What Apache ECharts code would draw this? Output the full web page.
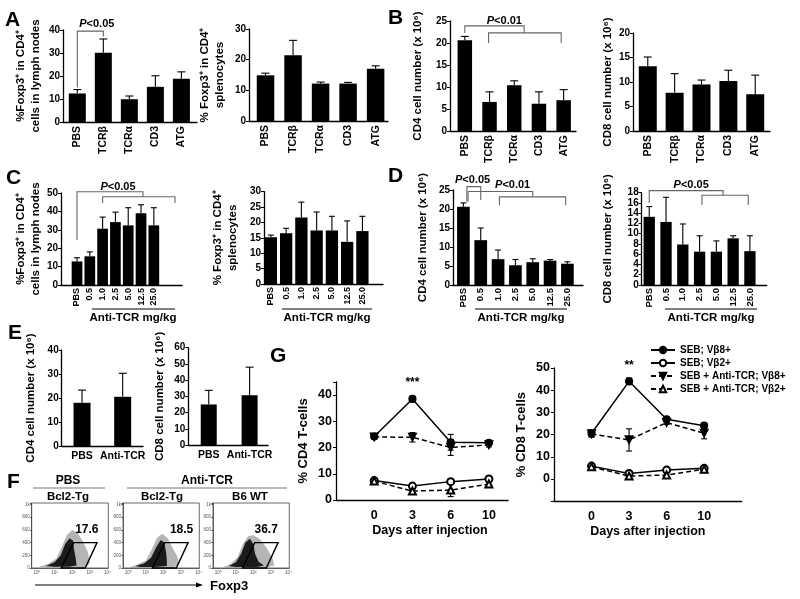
<!DOCTYPE html>
<html><head><meta charset="utf-8">
<script src="https://cdn.jsdelivr.net/npm/echarts@6/dist/echarts.min.js"></script>
<style>html,body{margin:0;padding:0;background:#fff}#c{width:800px;height:599px}</style>
</head><body><div id="c"></div>
<script>
const FONT = '"Liberation Sans", Arial, Helvetica, sans-serif';

// ---------------- DATA ----------------
// Panel A
const catsA = ['PBS', 'TCRβ', 'TCRα', 'CD3', 'ATG'];
const a1Mean = [12.4, 30.1, 9.9, 15.3, 18.8];
const a1Err  = [1.7, 6.0, 1.4, 4.8, 3.0];
const a2Mean = [14.9, 21.4, 12.2, 12.2, 17.0];
const a2Err  = [0.7, 4.9, 0.5, 0.4, 1.0];
// Panel B
const b1Mean = [20.6, 6.6, 10.4, 6.2, 7.0];
const b1Err  = [0.9, 2.3, 1.0, 2.7, 2.4];
const b2Mean = [13.2, 7.8, 9.5, 10.2, 7.5];
const b2Err  = [1.9, 3.9, 0.9, 2.2, 3.9];
// Panel C / D (anti-TCR doses, mg/kg)
const catsC = ['PBS', '0.5', '1.0', '2.5', '5.0', '12.5', '25.0'];
const c1Mean = [12.8, 15.6, 30.6, 34.2, 32.4, 39.0, 32.4];
const c1Err  = [2.0, 2.4, 6.3, 5.4, 9.6, 4.6, 9.6];
const c2Mean = [15.2, 16.5, 21.6, 17.4, 17.4, 13.7, 17.2];
const c2Err  = [0.7, 1.6, 5.0, 6.0, 4.6, 6.8, 4.8];
const d1Mean = [20.6, 11.8, 6.8, 5.2, 6.0, 6.4, 5.6];
const d1Err  = [1.0, 3.2, 2.4, 1.5, 0.9, 0.3, 0.5];
const d2Mean = [13.3, 12.3, 7.9, 6.5, 6.5, 9.1, 6.6];
const d2Err  = [2.0, 4.8, 4.0, 3.1, 2.1, 0.5, 3.0];
// Panel E
const catsE = ['PBS', 'Anti-TCR'];
const e1Mean = [18.0, 20.5];
const e1Err  = [5.3, 9.8];
const e2Mean = [25.0, 30.7];
const e2Err  = [8.7, 17.3];
// Significance brackets: [fromX, toX, lineY, leftEndY, rightEndY] ; labels: [x, y]
const a1Br = [[0, 1, 39.5, 15.0, 37.2]];
const a1BrLab = [[0.75, 42.8]];
const b1Br = [[0, 2.4, 23.9, 22.3, 22.3], [0.96, 3.9, 22.3, 20.0, 20.0]];
const b1BrLab = [[1.6, 25.0]];
const c1Br = [[0, 5.15, 50.7, 24.5, 48.0], [2, 7.65, 48.0, 44.6, 44.6]];
const c1BrLab = [[3.2, 53.5]];
const d1Br = [[0.2, 1, 25.9, 21.9, 22.4], [0.27, 4.0, 24.6, 21.9, 23.2], [2.08, 5.9, 23.2, 21.0, 21.0]];
const d1BrLab = [[0.53, 27.6], [2.84, 26.3]];
const d1BrTxt = ['0.05', '0.01'];
const d2Br = [[0, 4.4, 18.4, 16.0, 17.5], [3.14, 5.9, 17.5, 15.6, 15.6]];
const d2BrLab = [[2.5, 19.5]];
// Panel F (flow cytometry): x = log10 Foxp3, y = SSC
const fTitles = ['17.6', '18.5', '36.7'];
const fGate = [[1.38, 0], [2.08, 400], [3.41, 400], [2.74, 0]];
const fCloudOuter = [
  [[0.1,20],[0.6,60],[1.1,150],[1.4,330],[1.7,520],[2.0,600],[2.3,560],[2.6,420],[2.9,250],[3.0,80],[2.8,15],[1.5,10],[0.5,10]],
  [[0.1,15],[0.5,50],[1.0,120],[1.35,300],[1.65,480],[1.95,540],[2.25,470],[2.5,330],[2.8,180],[2.9,60],[2.6,10],[1.2,8],[0.3,8]],
  [[0.3,15],[0.7,60],[1.1,170],[1.4,380],[1.7,500],[2.0,520],[2.4,450],[2.8,300],[3.1,150],[3.2,40],[2.8,10],[1.4,8],[0.5,8]]
];
const fCloudInner = [
  [[0.5,30],[1.0,90],[1.35,200],[1.6,380],[1.85,470],[2.05,430],[2.1,300],[2.2,150],[2.25,40],[1.8,20],[1.0,20]],
  [[0.4,30],[0.9,70],[1.3,160],[1.6,330],[1.85,440],[2.05,400],[2.15,260],[2.2,120],[2.2,30],[1.5,15],[0.7,15]],
  [[0.6,30],[1.0,90],[1.3,220],[1.55,400],[1.8,460],[2.0,380],[2.1,220],[2.3,100],[2.6,40],[2.2,15],[1.0,15]]
];
const fPctPos = [[2.83, 598], [3.04, 598], [2.73, 598]];
// Panel G
const gDays = ['0', '3', '6', '10'];
const gNames = ['SEB; Vβ8+', 'SEB; Vβ2+', 'SEB + Anti-TCR; Vβ8+', 'SEB + Anti-TCR; Vβ2+'];
const g1Vals = [[24.2, 38.5, 22.0, 21.8], [7.4, 5.3, 7.0, 8.0], [24.0, 23.9, 20.0, 21.0], [7.2, 3.4, 3.8, 6.1]];
const g1Errs = [[0.8, 1.0, 3.0, 0.8], [0.5, 0.8, 0.5, 0.5], [0.8, 1.8, 3.0, 0.8], [0.5, 0.8, 2.5, 0.8]];
const g2Vals = [[20.6, 44.0, 26.9, 24.0], [5.8, 2.5, 4.0, 4.8], [20.3, 17.6, 25.4, 20.6], [5.5, 1.3, 1.8, 4.4]];
const g2Errs = [[1.5, 1.5, 0.8, 0.8], [0.5, 0.5, 0.5, 0.5], [1.5, 5.0, 0.8, 2.5], [0.5, 0.5, 1.5, 0.5]];
const g1Star = '***', g2Star = '**';

// ---------------- BUILD ----------------
const grids = [], xAxes = [], yAxes = [], series = [];
const B = {color: '#000', fontFamily: FONT, fontWeight: 'bold'};
const r05 = v => Math.round(v * 20) / 20;
function addGrid(g) { grids.push(g); return grids.length - 1; }

function errUp(cap) {
  return function (params, api) {
    const x = api.value(0), lo = api.value(1), hi = api.value(2);
    const a = api.coord([x, lo]), b = api.coord([x, hi]);
    return {type: 'group', children: [
      {type: 'line', shape: {x1: a[0], y1: a[1], x2: b[0], y2: b[1]}, style: {stroke: '#000', lineWidth: 1.1}},
      {type: 'line', shape: {x1: b[0] - cap, y1: b[1], x2: b[0] + cap, y2: b[1]}, style: {stroke: '#000', lineWidth: 1.1}}
    ]};
  };
}
function errBoth(cap) {
  return function (params, api) {
    const x = api.value(0), lo = api.value(1), hi = api.value(2);
    const a = api.coord([x, lo]), b = api.coord([x, hi]);
    return {type: 'group', children: [
      {type: 'line', shape: {x1: a[0], y1: a[1], x2: b[0], y2: b[1]}, style: {stroke: '#000', lineWidth: 1.1}},
      {type: 'line', shape: {x1: b[0] - cap, y1: b[1], x2: b[0] + cap, y2: b[1]}, style: {stroke: '#000', lineWidth: 1.1}},
      {type: 'line', shape: {x1: a[0] - cap, y1: a[1], x2: a[0] + cap, y2: a[1]}, style: {stroke: '#000', lineWidth: 1.1}}
    ]};
  };
}
function addBrackets(gi, brs, labs, txts) {
  series.push({type: 'custom', xAxisIndex: gi, yAxisIndex: gi, clip: false, z: 4, silent: true, data: brs,
    renderItem: (params, api) => {
      const x1 = api.value(0), x2 = api.value(1), y = api.value(2), yl = api.value(3), yr = api.value(4);
      return {type: 'polyline', shape: {points: [api.coord([x1, yl]), api.coord([x1, y]), api.coord([x2, y]), api.coord([x2, yr])]},
        style: {stroke: '#666', lineWidth: 1.1, fill: null}};
    }});
  series.push({type: 'custom', xAxisIndex: gi, yAxisIndex: gi, clip: false, z: 4, silent: true, data: labs,
    renderItem: (params, api) => {
      const c = api.coord([api.value(0), api.value(1)]);
      const t = txts[params.dataIndex];
      return {type: 'text', x: c[0], y: c[1], style: {text: '{i|P}{n|<' + t + '}', align: 'center', verticalAlign: 'middle',
        rich: {i: {fontStyle: 'italic', fontWeight: 'bold', fontSize: 11, fontFamily: FONT, fill: '#000'},
               n: {fontWeight: 'bold', fontSize: 11, fontFamily: FONT, fill: '#000'}}}};
    }});
}

function barPanel(p) {
  const gi = addGrid({left: p.left, top: p.top, width: p.right - p.left, height: p.bottom - p.top});
  const xmin = r05(-(p.first - p.left) / p.sp), xmax = r05((p.right - p.first) / p.sp);
  xAxes.push({gridIndex: gi, type: 'value', min: xmin, max: xmax, interval: 0.05,
    splitLine: {show: false}, axisTick: {show: false},
    axisLine: {onZero: false, lineStyle: {color: '#000', width: 1.3}},
    axisLabel: Object.assign({}, B, {fontSize: p.catFont, rotate: p.rot, margin: p.catMargin,
      formatter: v => { const r = Math.round(v); return (Math.abs(v - r) < 1e-6 && r >= 0 && r < p.cats.length) ? p.cats[r] : ''; }})});
  yAxes.push({gridIndex: gi, type: 'value', min: 0, max: p.ymax, interval: p.ystep,
    splitLine: {show: false}, axisLine: {show: true, onZero: false, lineStyle: {color: '#000', width: 1.3}},
    axisTick: {show: true, length: 3, lineStyle: {color: '#000'}},
    axisLabel: Object.assign({}, B, {fontSize: p.tickFont, margin: 3}),
    name: p.name, nameLocation: 'middle', nameGap: p.nameGap, nameRotate: 90,
    nameTextStyle: Object.assign({}, B, {fontSize: p.nameFont, lineHeight: p.nameFont + 3})});
  series.push({type: 'bar', xAxisIndex: gi, yAxisIndex: gi, data: p.vals.map((v, i) => [i, v]),
    barWidth: p.barW, itemStyle: {color: '#000'}, silent: true});
  series.push({type: 'custom', xAxisIndex: gi, yAxisIndex: gi, clip: false, z: 3, silent: true,
    data: p.vals.map((v, i) => [i, v, v + p.errs[i]]), renderItem: errUp(p.cap)});
  return gi;
}

const nmFox = '%Foxp3⁺ in CD4⁺\ncells in lymph nodes';
const nmSpl = '% Foxp3⁺ in CD4⁺\nsplenocytes';
const nmCD4 = 'CD4 cell number (x 10⁶)';
const nmCD8 = 'CD8 cell number (x 10⁶)';

let gi;
gi = barPanel({left: 63, right: 197, top: 30, bottom: 122, first: 77.7, sp: 26, barW: 17, ymax: 40, ystep: 10,
  cats: catsA, vals: a1Mean, errs: a1Err, name: nmFox, nameGap: 20, catFont: 10.5, rot: 90, catMargin: 4, tickFont: 10, nameFont: 11.5, cap: 4});
addBrackets(gi, a1Br, a1BrLab, ['0.05']);
barPanel({left: 249, right: 388, top: 29, bottom: 121, first: 265.7, sp: 27.5, barW: 17.5, ymax: 30, ystep: 10,
  cats: catsA, vals: a2Mean, errs: a2Err, name: nmSpl, nameGap: 22, catFont: 10.5, rot: 90, catMargin: 4, tickFont: 10, nameFont: 11.5, cap: 4});
gi = barPanel({left: 450, right: 576, top: 21, bottom: 131, first: 464.3, sp: 24.75, barW: 14.5, ymax: 25, ystep: 5,
  cats: catsA, vals: b1Mean, errs: b1Err, name: nmCD4, nameGap: 25, catFont: 10.5, rot: 90, catMargin: 4, tickFont: 10, nameFont: 11.5, cap: 4});
addBrackets(gi, b1Br, b1BrLab, ['0.01']);
barPanel({left: 633, right: 770, top: 33, bottom: 131, first: 648.3, sp: 26.85, barW: 18, ymax: 20, ystep: 5,
  cats: catsA, vals: b2Mean, errs: b2Err, name: nmCD8, nameGap: 18, catFont: 10.5, rot: 90, catMargin: 4, tickFont: 10, nameFont: 11.5, cap: 4});
gi = barPanel({left: 61, right: 182, top: 193, bottom: 285, first: 77, sp: 12.8, barW: 10.7, ymax: 50, ystep: 10,
  cats: catsC, vals: c1Mean, errs: c1Err, name: nmFox, nameGap: 16, catFont: 9, rot: 90, catMargin: 3, tickFont: 10, nameFont: 11.5, cap: 3});
addBrackets(gi, c1Br, c1BrLab, ['0.05']);
barPanel({left: 264, right: 383, top: 191.7, bottom: 284, first: 271, sp: 15.2, barW: 12.3, ymax: 30, ystep: 5,
  cats: catsC, vals: c2Mean, errs: c2Err, name: nmSpl, nameGap: 24, catFont: 9, rot: 90, catMargin: 3, tickFont: 10, nameFont: 11.5, cap: 3});
gi = barPanel({left: 453, right: 583, top: 190, bottom: 285, first: 463.3, sp: 17.3, barW: 12.7, ymax: 25, ystep: 5,
  cats: catsC, vals: d1Mean, errs: d1Err, name: nmCD4, nameGap: 23, catFont: 9.5, rot: 90, catMargin: 3, tickFont: 10, nameFont: 11.5, cap: 3});
addBrackets(gi, d1Br, d1BrLab, d1BrTxt);
gi = barPanel({left: 641.7, right: 766.7, top: 192.7, bottom: 285, first: 649, sp: 16.8, barW: 11.3, ymax: 18, ystep: 2,
  cats: catsC, vals: d2Mean, errs: d2Err, name: nmCD8, nameGap: 27, catFont: 9.5, rot: 90, catMargin: 3, tickFont: 10, nameFont: 11.5, cap: 3});
addBrackets(gi, d2Br, d2BrLab, ['0.05']);
barPanel({left: 61.7, right: 143, top: 350, bottom: 446, first: 81.7, sp: 40.3, barW: 17, ymax: 40, ystep: 10,
  cats: catsE, vals: e1Mean, errs: e1Err, name: nmCD4, nameGap: 24, catFont: 10.5, rot: 0, catMargin: 5, tickFont: 10, nameFont: 11.5, cap: 4});
barPanel({left: 188.3, right: 268, top: 347.7, bottom: 445, first: 209, sp: 40.7, barW: 16, ymax: 60, ystep: 10,
  cats: catsE, vals: e2Mean, errs: e2Err, name: nmCD8, nameGap: 21, catFont: 10.5, rot: 0, catMargin: 5, tickFont: 10, nameFont: 11.5, cap: 4});

// ---- Panel F ----
const supDigits = ['⁰', '¹', '²', '³', '⁴', '⁵'];
const fBoxes = [[31.7, 108.3], [123, 199.3], [213, 289.3]];
fBoxes.forEach((bx, k) => {
  const g = addGrid({left: bx[0], top: 503, width: bx[1] - bx[0], height: 65, show: true, borderColor: '#444', borderWidth: 0.8});
  xAxes.push({gridIndex: g, type: 'value', min: -0.3, max: 4.05, interval: 0.05, splitLine: {show: false},
    axisLine: {onZero: false, lineStyle: {color: '#444', width: 0.8}}, axisTick: {show: false},
    axisLabel: {fontSize: 4.5, color: '#555', margin: 2, fontFamily: FONT,
      formatter: v => { const r = Math.round(v); return (Math.abs(v - r) < 1e-6 && r >= 0 && r <= 4) ? '10' + supDigits[r] : ''; }}});
  yAxes.push({gridIndex: g, type: 'value', min: 0, max: 1024, interval: 200, splitLine: {show: false},
    axisLine: {show: true, onZero: false, lineStyle: {color: '#444', width: 0.8}}, axisTick: {show: true, length: 1.5},
    axisLabel: {fontSize: 4.5, color: '#555', margin: 2, fontFamily: FONT, formatter: v => (v <= 1000 ? (v === 1000 ? '1k' : String(v)) : '')}});
  const polyRender = polys => (params, api) => ({type: 'polygon',
    shape: {points: polys[params.dataIndex].map(pt => api.coord(pt))}, style: api.style()});
  series.push({type: 'custom', xAxisIndex: g, yAxisIndex: g, silent: true, z: 2, data: [[0, 0]],
    itemStyle: {color: 'rgba(90,90,90,0.45)'}, renderItem: polyRender([fCloudOuter[k]])});
  series.push({type: 'custom', xAxisIndex: g, yAxisIndex: g, silent: true, z: 3, data: [[0, 0]],
    itemStyle: {color: 'rgba(10,10,10,0.9)'}, renderItem: polyRender([fCloudInner[k]])});
  series.push({type: 'custom', xAxisIndex: g, yAxisIndex: g, silent: true, z: 4, data: [[0, 0]],
    renderItem: (params, api) => ({type: 'polygon', shape: {points: fGate.map(pt => api.coord(pt))},
      style: {fill: null, stroke: '#000', lineWidth: 1.4}})});
  series.push({type: 'custom', xAxisIndex: g, yAxisIndex: g, silent: true, z: 5, data: [fPctPos[k]],
    renderItem: (params, api) => { const c = api.coord([api.value(0), api.value(1)]);
      return {type: 'text', x: c[0], y: c[1], style: {text: fTitles[k], align: 'center', verticalAlign: 'middle',
        font: 'bold 12px ' + FONT, fill: '#000'}}; }});
});

// ---- Panel G ----
const gStyles = [
  {symbol: 'circle', dash: 'solid', size: 7},
  {symbol: 'emptyCircle', dash: 'solid', size: 7},
  {symbol: 'path://M0,0L10,0L5,9Z', dash: [5, 3], size: 8},
  {symbol: 'emptyTriangle', dash: [5, 3], size: 7}
];
function linePanel(p) {
  const g = addGrid({left: p.left, top: p.top, width: p.right - p.left, height: p.bottom - p.top});
  xAxes.push({gridIndex: g, type: 'value', min: -1, max: p.xmax, interval: 0.5, splitLine: {show: false},
    axisTick: {show: false}, axisLine: {onZero: false, lineStyle: {color: '#000', width: 1.3}},
    axisLabel: Object.assign({}, B, {fontSize: 12.5, margin: 9,
      formatter: v => (Number.isInteger(v) && v >= 0 && v < gDays.length ? gDays[v] : '')}),
    name: 'Days after injection', nameLocation: 'middle', nameGap: 24,
    nameTextStyle: Object.assign({}, B, {fontSize: 12.5, padding: p.namePad})});
  yAxes.push({gridIndex: g, type: 'value', min: p.ymin, max: p.ymax, interval: 10, splitLine: {show: false},
    axisLine: {show: true, onZero: false, lineStyle: {color: '#000', width: 1.3}},
    axisTick: {show: true, length: 3, lineStyle: {color: '#000'}},
    axisLabel: Object.assign({}, B, {fontSize: 12.5, margin: 4,
      formatter: v => (v >= 0 && v <= p.labMax && v % 10 === 0 ? String(v) : '')}),
    name: p.name, nameLocation: 'middle', nameGap: 26, nameRotate: 90,
    nameTextStyle: Object.assign({}, B, {fontSize: 13})});
  p.vals.forEach((vals, k) => {
    const st = gStyles[k];
    series.push({type: 'line', name: gNames[k], xAxisIndex: g, yAxisIndex: g, z: 5,
      data: vals.map((v, i) => (k === 0 && i === 1) ?
        {value: [i, v], label: {show: true, formatter: p.star, position: 'top', distance: 6, fontFamily: FONT, fontWeight: 'bold', fontSize: 12, color: '#000'}} : [i, v]),
      symbol: st.symbol, symbolSize: st.size,
      lineStyle: {color: '#000', width: 1.5, type: st.dash},
      itemStyle: {color: '#000', borderColor: '#000', borderWidth: 1.2}});
    series.push({type: 'custom', xAxisIndex: g, yAxisIndex: g, z: 4, silent: true,
      data: vals.map((v, i) => [i, v - p.errs[k][i], v + p.errs[k][i]]), renderItem: errBoth(3)});
  });
}
linePanel({left: 336, right: 508, top: 381.9, bottom: 500, xmax: 3.5, ymin: 0, ymax: 45, labMax: 40,
  vals: g1Vals, errs: g1Errs, name: '% CD4 T-cells', star: g1Star, namePad: [0, 0, 0, 16]});
linePanel({left: 554, right: 741.7, top: 368, bottom: 501.2, xmax: 4, ymin: -10, ymax: 50, labMax: 50,
  vals: g2Vals, errs: g2Errs, name: '% CD8 T-cells', star: g2Star, namePad: [0, 0, 0, 0]});

// ---- static annotations ----
const T = (x, y, text, size, align, extra) => Object.assign({type: 'text', x: x, y: y, silent: true,
  style: {text: text, font: 'bold ' + size + 'px ' + FONT, fill: '#000', align: align || 'left', verticalAlign: 'middle'}}, extra || {});
const L = (x1, y1, x2, y2, c, w) => ({type: 'line', silent: true, shape: {x1, y1, x2, y2}, style: {stroke: c || '#000', lineWidth: w || 1}});
const graphic = [
  T(5, 20, 'A', 21), T(388, 18, 'B', 21), T(6, 178, 'C', 21), T(388, 176, 'D', 21),
  T(8, 333, 'E', 21), T(7, 482, 'F', 21), T(270, 356, 'G', 21),
  L(92, 309, 175, 309, '#555', 1.3), T(133, 318, 'Anti-TCR mg/kg', 11.5, 'center'),
  L(282, 309, 372, 309, '#555', 1.3), T(327, 318, 'Anti-TCR mg/kg', 11.5, 'center'),
  L(475, 309, 567, 309, '#555', 1.3), T(521, 318, 'Anti-TCR mg/kg', 11.5, 'center'),
  L(665, 309, 757, 309, '#555', 1.3), T(711, 318, 'Anti-TCR mg/kg', 11.5, 'center'),
  T(68, 481, 'PBS', 12, 'center'), L(33, 488, 105, 488, '#777', 1),
  T(207, 481, 'Anti-TCR', 12, 'center'), L(127, 488, 287, 488, '#777', 1),
  T(68, 497, 'Bcl2-Tg', 11.5, 'center'), T(162, 497, 'Bcl2-Tg', 11.5, 'center'), T(250, 497, 'B6 WT', 11.5, 'center'),
  L(35, 585, 199, 585, '#000', 1),
  {type: 'polygon', silent: true, shape: {points: [[203, 585], [196, 582.5], [196, 587.5]]}, style: {fill: '#000'}},
  T(210, 586, 'Foxp3', 13)
];

const chart = echarts.init(document.getElementById('c'), null, {renderer: 'canvas'});
chart.setOption({
  animation: false, backgroundColor: '#fff', textStyle: {fontFamily: FONT},
  grid: grids, xAxis: xAxes, yAxis: yAxes, series: series, graphic: graphic,
  legend: {data: gNames, orient: 'vertical', left: 645, top: 340, itemWidth: 24, itemHeight: 8, itemGap: 3,
    textStyle: {fontFamily: FONT, fontWeight: 'bold', fontSize: 10, color: '#000'}, selectedMode: false}
});
</script></body></html>
